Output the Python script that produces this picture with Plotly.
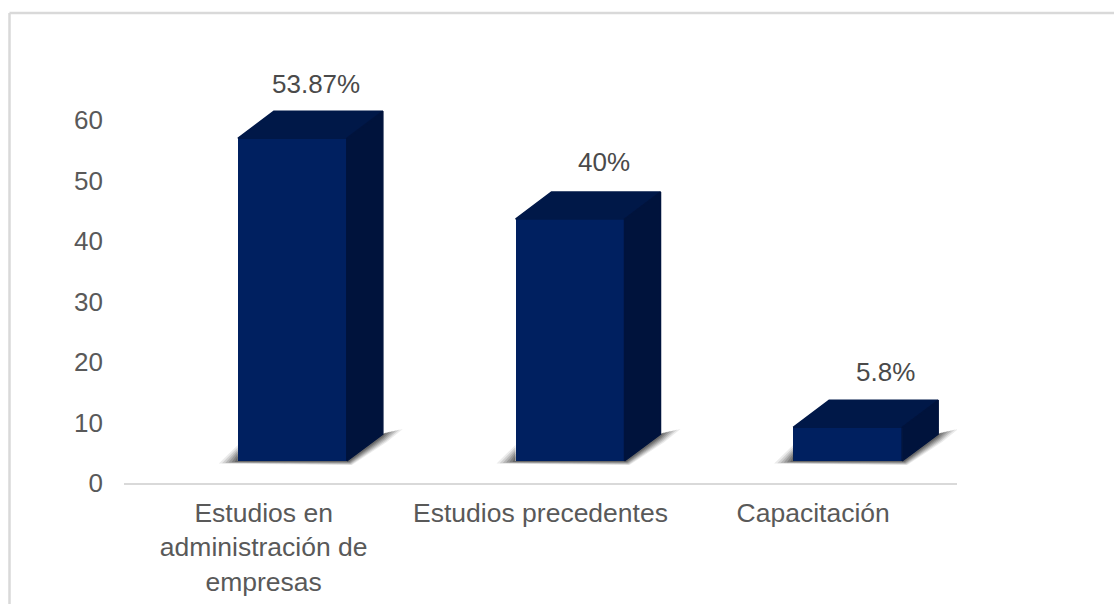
import plotly.graph_objects as go

categories = ["Estudios en<br>administración de<br>empresas", "Estudios precedentes", "Capacitación"]
values = [53.87, 40, 5.8]
value_labels = ["53.87%", "40%", "5.8%"]
y_ticks = [0, 10, 20, 30, 40, 50, 60]

W, H = 1114, 604
L, R, T, B = 124, 157, 60, 121
PX_X = (W - L - R) / 3      # px per category
PX_Y = 6.05                 # px per y unit
ux = lambda px: px / PX_X
uy = lambda px: px / PX_Y

FONT = "Liberation Sans, Arial, sans-serif"
FRONT, TOP, SIDE = "#002060", "#001848", "#00133c"

bar_w = ux(109)
bar_off = ux(29.5)
floor = uy(22)
dx, dy = ux(36), uy(27)
height_scale = [0.99, 1.0, 0.96]
label_shift = [24, 34, 38]
label_lift = [27, 30, 28]
tick_shift = [0.003, 0.0, -0.018]

xs = [i + bar_off for i in range(len(values))]
tops = [floor + v * k for v, k in zip(values, height_scale)]

fig = go.Figure()


def poly(px, py, color, line=0.0):
    fig.add_trace(go.Scatter(
        x=px + px[:1], y=py + py[:1], mode="lines", fill="toself", fillcolor=color,
        line=dict(color=color, width=line), hoverinfo="skip", showlegend=False))


# soft floor shadows, built up from translucent layers
for x0 in xs:
    xl, xr = x0 - bar_w / 2, x0 + bar_w / 2
    for grow, alpha in [(1.0, 0.10), (0.8, 0.14), (0.6, 0.18), (0.4, 0.22), (0.2, 0.28), (0.0, 0.34)]:
        poly(
            [xl - ux(3 + 16 * grow), xl, xl, xr, xr + dx, xr + dx + ux(4 + 16 * grow),
             xr + dx + ux(4 * grow), xr + ux(2 + 3 * grow)],
            [floor - uy(1 + 1.5 * grow), floor + uy(5 + 11 * grow), floor, floor, floor + dy,
             floor + dy + uy(2 + 3 * grow), floor + dy - uy(3 + 5 * grow), floor - uy(1 + 3 * grow)],
            f"rgba(60,60,60,{alpha})")

# top and side faces
for x0, t in zip(xs, tops):
    xl, xr = x0 - bar_w / 2, x0 + bar_w / 2
    poly([xl, xl + dx, xr + dx, xr], [t, t + dy, t + dy, t], TOP, line=1.5)
    poly([xr, xr + dx, xr + dx, xr], [floor, floor + dy, t + dy, t], SIDE, line=1.5)

# front faces
fig.add_trace(go.Bar(
    x=xs, y=[t - floor for t in tops], base=floor, width=bar_w,
    marker=dict(color=FRONT, line=dict(width=0)), hoverinfo="skip", showlegend=False))

for x0, t, txt, sx, lift in zip(xs, tops, value_labels, label_shift, label_lift):
    fig.add_annotation(x=x0, y=t + dy, text=txt, showarrow=False, xshift=sx, yshift=lift,
                       font=dict(family=FONT, size=26, color="#4a4a4a"))

s_left = (9.5 - L) / (W - L - R)
s_top = 1 + (T - 13) / (H - T - B)
s_bot = -B / (H - T - B)
s_right = 1 + R / (W - L - R)
border = dict(color="#d9d9d9", width=2.5)
fig.add_shape(type="line", xref="paper", yref="paper", x0=s_left, x1=s_left, y0=s_bot, y1=s_top, line=border)
fig.add_shape(type="line", xref="paper", yref="paper", x0=s_left, x1=s_right, y0=s_top, y1=s_top, line=border)

fig.update_layout(
    width=W, height=H, margin=dict(l=L, r=R, t=T, b=B, autoexpand=False),
    paper_bgcolor="white", plot_bgcolor="white", showlegend=False, bargap=0,
    font=dict(family=FONT, size=26, color="#595959"),
    xaxis=dict(range=[-0.5, 2.5], tickmode="array",
               tickvals=[i + s for i, s in enumerate(tick_shift)], ticktext=categories,
               showgrid=False, zeroline=False, showline=True, linecolor="#d9d9d9", linewidth=2,
               ticks="", ticklabelstandoff=5, tickangle=0, tickfont=dict(size=26.5)),
    yaxis=dict(range=[0, (H - T - B) / PX_Y], tickmode="array", tickvals=y_ticks,
               showgrid=False, zeroline=False, showline=False, ticks="", ticklabelstandoff=20),
)

fig.write_html("out.html", config={"displayModeBar": False},
               post_script="document.body.style.margin='0';document.body.style.overflow='hidden';")
